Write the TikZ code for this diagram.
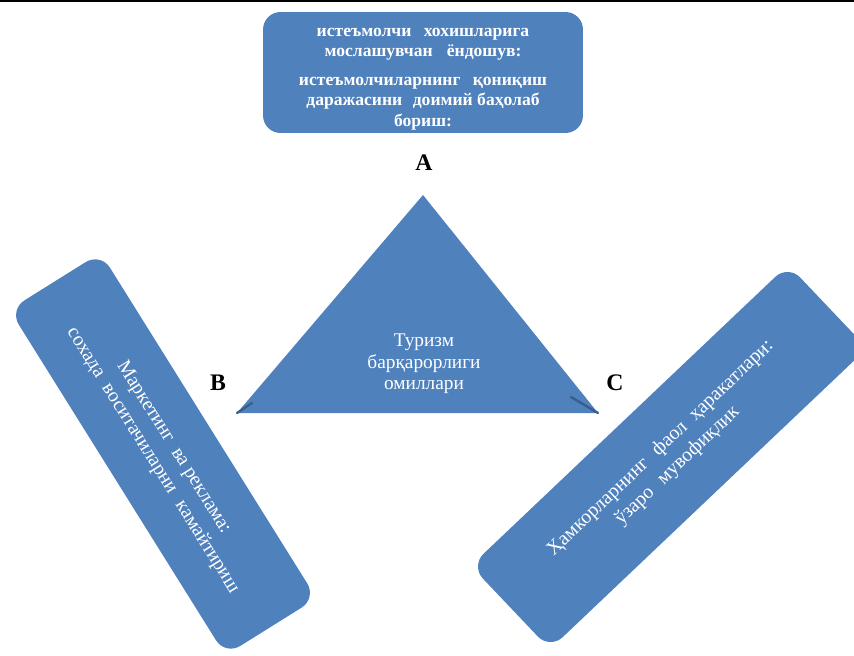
\documentclass[tikz,border=0pt]{standalone}
\usepackage{fontspec}
\setmainfont{Liberation Serif}
\definecolor{boxblue}{RGB}{79,129,189}
\definecolor{edgeblue}{RGB}{56,93,138}

\begin{document}
\begin{tikzpicture}[
        x=0.02cm, y=-0.02cm,
        % ----- styles -----
        box/.style={fill=boxblue, rounded corners=0.35cm, text=white, align=center, inner sep=0pt},
        topbox/.style={box, minimum width=6.4cm, minimum height=2.42cm},
        toptext/.style={text=white, align=center, inner sep=0pt, font=\fontsize{10}{11.5}\selectfont\bfseries},
        sidebox/.style={box, font=\fontsize{11.3}{14}\selectfont},
        tritext/.style={text=white, align=center, font=\fontsize{11}{12.3}\selectfont},
        vlabel/.style={font=\fontsize{13.5}{14}\selectfont\bfseries},
        nick/.style={draw=edgeblue, line width=1.3pt, line cap=round}
    ]
    \useasboundingbox (0,0) rectangle (854,655);
    \clip (0,0) rectangle (854,655);
    \fill[black] (0,0) rectangle (854,2.5);

    % ----- top box -----
    \node[topbox] (top) at (423,72.5) {};
    \node[toptext] (toptext) at (top.center) [yshift=-0.13cm] {истеъмолчи\hspace{0.7em}хохишларига\\
        мослашувчан\hspace{0.8em}ёндошув:\\[5pt]
        истеъмолчиларнинг\hspace{0.7em}қониқиш\\
        даражасини\hspace{0.6em}доимий баҳолаб\\
        бориш:};

    % ----- triangle -----
    \coordinate (apex) at (423,195);
    \coordinate (bl) at (237,413);
    \coordinate (br) at (598,413);
    \fill[boxblue] (apex) -- (br) -- (bl) -- cycle;
    \draw[nick] (bl) -- (252,403);
    \draw[nick] (br) -- (571,397);
    \node[tritext] (tri) at (424,364) {Туризм\\барқарорлиги\\омиллари};

    \node[vlabel] (A) at (424,163) {A};
    \node[vlabel] (B) at (218,383) {B};
    \node[vlabel] (C) at (615,383) {C};

    % ----- side boxes -----
    \node[sidebox, minimum width=8.15cm, minimum height=2.15cm, rotate=-58] (left) at (163,454)
        {Маркетинг\hspace{0.5em}ва реклама:\\
         сохада\hspace{0.5em}воситачиларни\hspace{0.6em}камайтириш};
    \node[sidebox, minimum width=8.75cm, minimum height=2.3cm, rotate=43.5] (right) at (669,457)
        {Ҳамкорларнинг\hspace{0.6em}фаол\hspace{0.5em}ҳаракатлари:\\
         ўзаро\hspace{0.6em}мувофиқлик};
\end{tikzpicture}
\end{document}
